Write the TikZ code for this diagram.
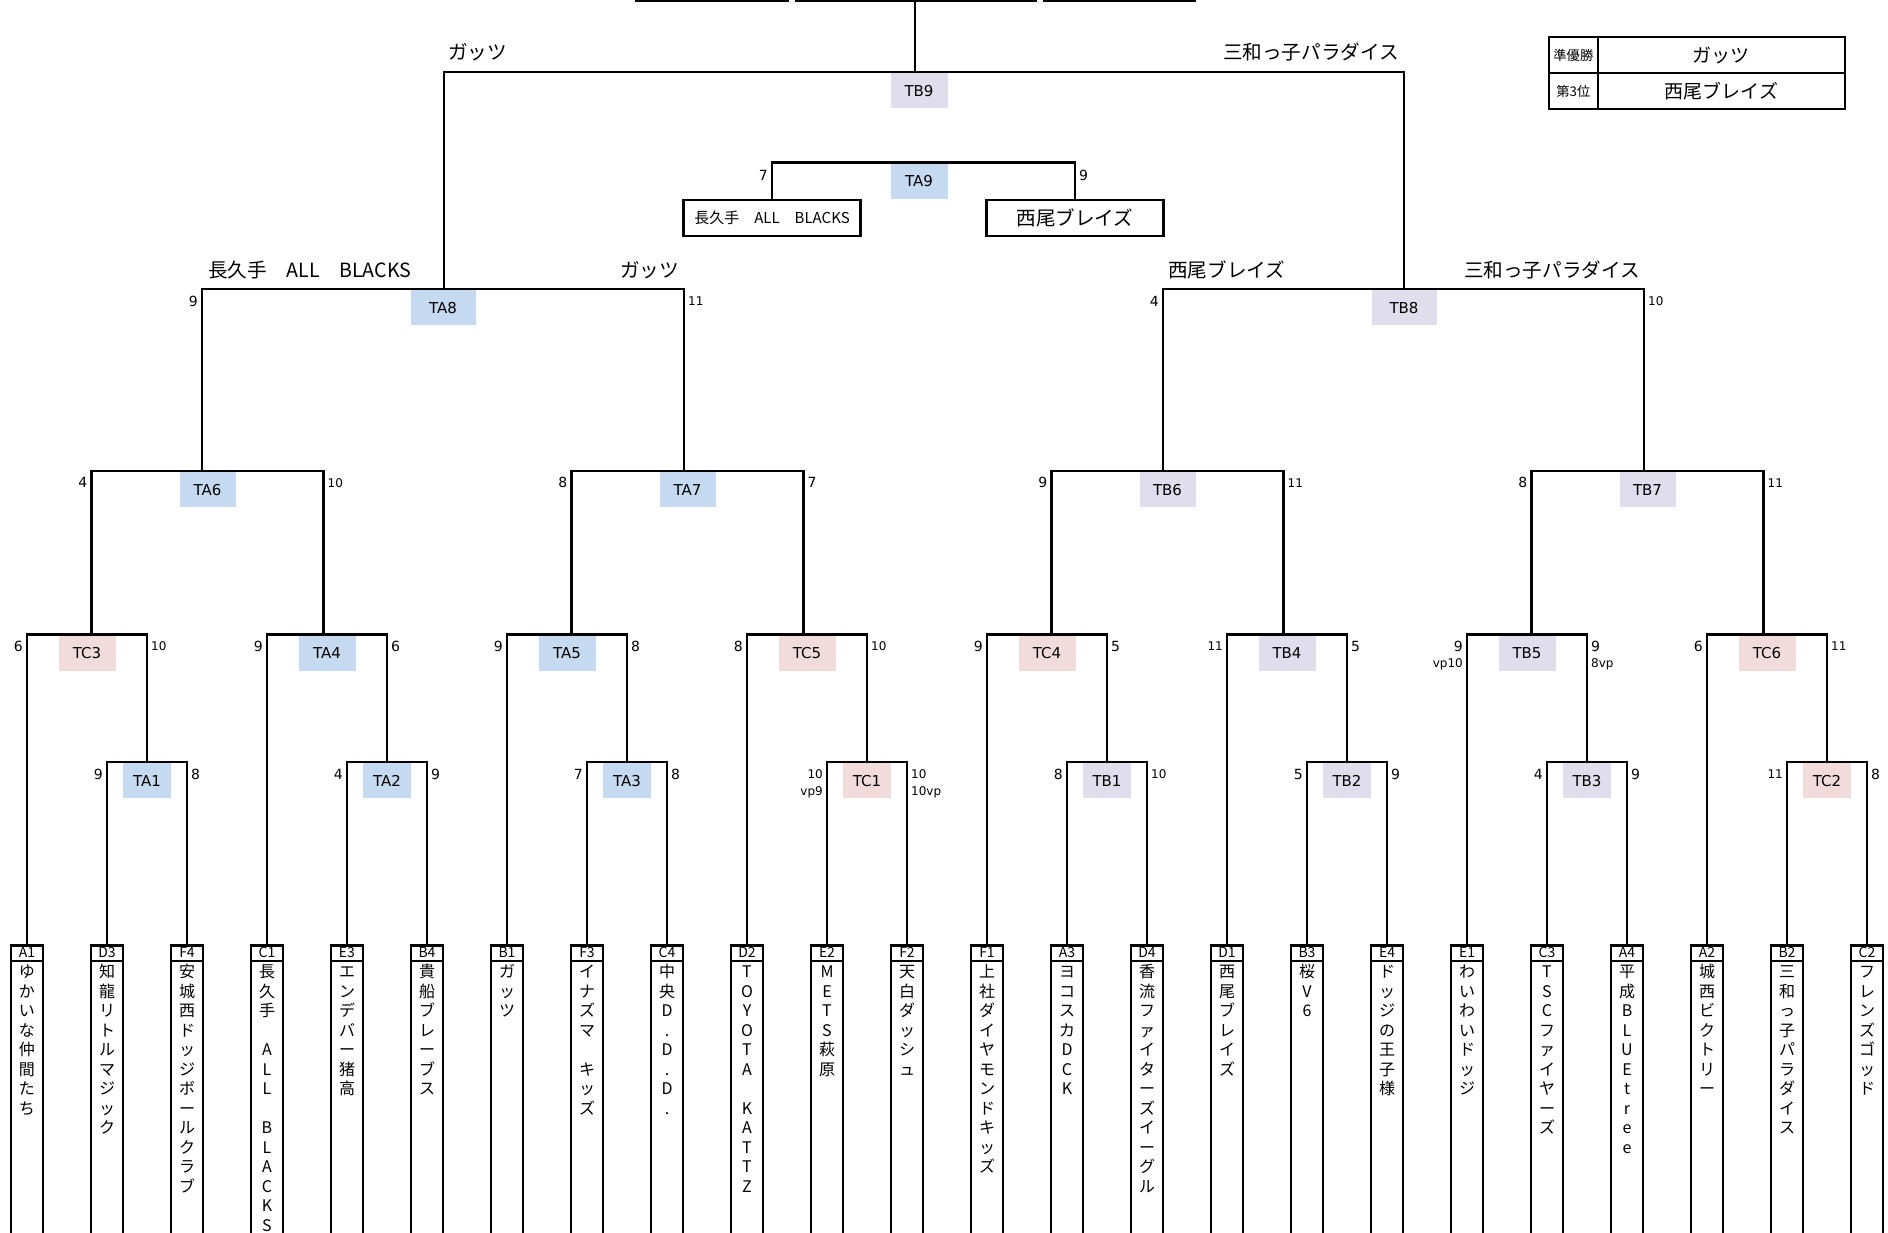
\documentclass[tikz,border=0pt]{standalone}
\usepackage{fontspec}
\setmainfont{Noto Sans CJK JP}
\newfontfamily\lat{DejaVu Sans}
\definecolor{cA}{HTML}{C5D9F1}
\definecolor{cB}{HTML}{E0DEED}
\definecolor{cC}{HTML}{F2DCDB}
\ExplSyntaxOn
\cs_new_protected:Npn \my_vt:n #1
  {
    \vtop
      {
        \baselineskip = 19.5pt
        \lineskiplimit = -\maxdimen
        \tl_map_inline:nn {#1} { \hbox_to_wd:nn { 32pt } { \hss ##1 \hss } }
      }
  }
\cs_generate_variant:Nn \my_vt:n { o }
\NewDocumentCommand \vt { m } { \my_vt:o {#1} }
\ExplSyntaxOff
\begin{document}
\begin{tikzpicture}[x=1pt,y=-1pt,
  ln/.style={line width=2.5pt},
  team/.style={draw,line width=2.5pt,minimum width=32pt,minimum height=310pt,anchor=north,inner sep=0pt},
  code/.style={inner sep=0pt,font=\fontsize{14}{14}\selectfont},
  vname/.style={anchor=base,inner sep=0pt,font=\fontsize{16}{19.5}\selectfont},
  lab/.style={anchor=north,inner sep=0pt,minimum height=35pt,font=\lat\fontsize{15}{15}\selectfont},
  la/.style={lab,fill=cA}, lb/.style={lab,fill=cB}, lc/.style={lab,fill=cC},
  w1/.style={minimum width=48pt}, w2/.style={minimum width=57pt},
  w3/.style={minimum width=56pt}, w4/.style={minimum width=65pt},
  scl/.style={anchor=east,inner sep=0pt,font=\lat\fontsize{14}{14}\selectfont},
  scr/.style={anchor=west,inner sep=0pt,font=\lat\fontsize{14}{14}\selectfont},
  sm/.style={font=\lat\fontsize{12}{12}\selectfont},
  big/.style={inner sep=0pt,font=\fontsize{19.6}{19.6}\selectfont},
  cell/.style={draw,line width=2.2pt,anchor=north west,inner sep=0pt,minimum height=36pt},
]
\fill[white] (0,0) rectangle (1888,1233);
\useasboundingbox (0,0) rectangle (1888,1233);
\clip (0,0) rectangle (1888,1233);

% ---------- teams ----------
\foreach \i/\cd/\nm in {
 0/A1/ゆかいな仲間たち,
 1/D3/知龍リトルマジック,
 2/F4/安城西ドッジボールクラブ,
 3/C1/長久手　ALL　BLACKS,
 4/E3/エンデバー猪高,
 5/B4/貴船ブレーブス,
 6/B1/ガッツ,
 7/F3/イナズマ　キッズ,
 8/C4/中央D.D.D.,
 9/D2/TOYOTA　KATTZ,
 10/E2/METS萩原,
 11/F2/天白ダッシュ,
 12/F1/上社ダイヤモンドキッズ,
 13/A3/ヨコスカDCK,
 14/D4/香流ファイターズイーグル,
 15/D1/西尾ブレイズ,
 16/B3/桜V6,
 17/E4/ドッジの王子様,
 18/E1/わいわいドッジ,
 19/C3/TSCファイヤーズ,
 20/A4/平成BLUEtree,
 21/A2/城西ビクトリー,
 22/B2/三和っ子パラダイス,
 23/C2/フレンズゴッド}{
  \node[team] (t\i) at ({27+80*\i},944) {};
  \draw[ln] ([yshift=-17pt]t\i.north west) -- ([yshift=-17pt]t\i.north east);
  \node[code] (c\i) at ([yshift=-8.5pt]t\i.north) {\cd};
  \node[vname] (n\i) at ([yshift=-33.8pt]t\i.north) {\vt{\nm}};
}

% ---------- match labels ----------
\node[la,w1] (TA1) at (147,763.1) {TA1};
\node[la,w1] (TA2) at (387,763.1) {TA2};
\node[la,w1] (TA3) at (627,763.1) {TA3};
\node[lc,w1] (TC1) at (867,763.1) {TC1};
\node[lb,w1] (TB1) at (1107,763.1) {TB1};
\node[lb,w1] (TB2) at (1347,763.1) {TB2};
\node[lb,w1] (TB3) at (1587,763.1) {TB3};
\node[lc,w1] (TC2) at (1827,763.1) {TC2};

\node[lc,w2] (TC3) at (87,635.7) {TC3};
\node[la,w2] (TA4) at (327,635.7) {TA4};
\node[la,w2] (TA5) at (567,635.7) {TA5};
\node[lc,w2] (TC5) at (807,635.7) {TC5};
\node[lc,w2] (TC4) at (1047,635.7) {TC4};
\node[lb,w2] (TB4) at (1287,635.7) {TB4};
\node[lb,w2] (TB5) at (1527,635.7) {TB5};
\node[lc,w2] (TC6) at (1767,635.7) {TC6};

\node[la,w3] (TA6) at (207.5,471.9) {TA6};
\node[la,w3] (TA7) at (687.5,471.9) {TA7};
\node[lb,w3] (TB6) at (1167.5,471.9) {TB6};
\node[lb,w3] (TB7) at (1647.5,471.9) {TB7};

\node[la,w4] (TA8) at (443,290.1) {TA8};
\node[lb,w4] (TB8) at (1404,290.1) {TB8};

\node[lb,w2] (TB9) at (919,73.3) {TB9};
\node[la,w2] (TA9) at (919,163.7) {TA9};

% ---------- riser points ----------
\coordinate (TA1r) at (147,762);
\coordinate (TA2r) at (387,762);
\coordinate (TA3r) at (627,762);
\coordinate (TC1r) at (867,762);
\coordinate (TB1r) at (1107,762);
\coordinate (TB2r) at (1347,762);
\coordinate (TB3r) at (1587,762);
\coordinate (TC2r) at (1827,762);
\coordinate (TC3r) at (91.5,634.6);
\coordinate (TA4r) at (323.5,634.6);
\coordinate (TA5r) at (571.5,634.6);
\coordinate (TC5r) at (803.5,634.6);
\coordinate (TC4r) at (1051.5,634.6);
\coordinate (TB4r) at (1283.5,634.6);
\coordinate (TB5r) at (1531.5,634.6);
\coordinate (TC6r) at (1763.5,634.6);
\coordinate (TA6r) at (202,470.8);
\coordinate (TA7r) at (684,470.8);
\coordinate (TB6r) at (1163,470.8);
\coordinate (TB7r) at (1644,470.8);
\coordinate (TA8r) at (444,289);
\coordinate (TB8r) at (1404,289);
\coordinate (TB9r) at (915,72.2);
\coordinate (topr) at (915,0);
\coordinate (TA9r) at (919,162.6);

% ---------- brackets ----------
\draw[ln] (t1.north) |- (TA1r) -| (t2.north);
\draw[ln] (t4.north) |- (TA2r) -| (t5.north);
\draw[ln] (t7.north) |- (TA3r) -| (t8.north);
\draw[ln] (t10.north) |- (TC1r) -| (t11.north);
\draw[ln] (t13.north) |- (TB1r) -| (t14.north);
\draw[ln] (t16.north) |- (TB2r) -| (t17.north);
\draw[ln] (t19.north) |- (TB3r) -| (t20.north);
\draw[ln] (t22.north) |- (TC2r) -| (t23.north);

\draw[ln] (t0.north) |- (TC3r) -| (TA1r);
\draw[ln] (t3.north) |- (TA4r) -| (TA2r);
\draw[ln] (t6.north) |- (TA5r) -| (TA3r);
\draw[ln] (t9.north) |- (TC5r) -| (TC1r);
\draw[ln] (t12.north) |- (TC4r) -| (TB1r);
\draw[ln] (t15.north) |- (TB4r) -| (TB2r);
\draw[ln] (t18.north) |- (TB5r) -| (TB3r);
\draw[ln] (t21.north) |- (TC6r) -| (TC2r);

\draw[ln] (TC3r) |- (TA6r) -| (TA4r);
\draw[ln] (TA5r) |- (TA7r) -| (TC5r);
\draw[ln] (TC4r) |- (TB6r) -| (TB4r);
\draw[ln] (TB5r) |- (TB7r) -| (TC6r);

\draw[ln] (TA6r) |- (TA8r) -| (TA7r);
\draw[ln] (TB6r) |- (TB8r) -| (TB7r);

\draw[ln] (TA8r) |- (TB9r) -| (TB8r);
\draw[ln] (TB9r) -- (topr);

% ---------- third place match ----------
\node[draw,line width=2.5pt,anchor=north,minimum width=177pt,minimum height=36pt,inner sep=0pt,
      font=\fontsize{15}{15}\selectfont] (q1) at (772,198.7) {長久手　ALL　BLACKS};
\node[draw,line width=2.5pt,anchor=north,minimum width=177pt,minimum height=36pt,inner sep=0pt,
      font=\fontsize{19.6}{19.6}\selectfont] (q2) at (1075,198.7) {西尾ブレイズ};
\draw[ln] (q1.north) |- (TA9r) -| (q2.north);

% ---------- title cell borders at the top ----------
\coordinate (h1a) at (634.6,1); \coordinate (h1b) at (788.7,1);
\coordinate (h2a) at (794.7,1); \coordinate (h2b) at (1036.7,1);
\coordinate (h3a) at (1042.7,1); \coordinate (h3b) at (1195.7,1);
\draw[ln] (h1a) -- (h1b);
\draw[ln] (h2a) -- (h2b);
\draw[ln] (h3a) -- (h3b);

% ---------- winners' names above lines ----------
\node[big,anchor=west] (w9l) at (448,52) {ガッツ};
\node[big,anchor=east] (w9r) at (1399,52) {三和っ子パラダイス};
\node[big,anchor=west] (w8l) at (208,270) {長久手　ALL　BLACKS};
\node[big,anchor=east] (w8r) at (679,270) {ガッツ};
\node[big,anchor=west] (v8l) at (1168,270) {西尾ブレイズ};
\node[big,anchor=east] (v8r) at (1640,270) {三和っ子パラダイス};

% ---------- scores ----------
% level 1
\node[scl] (sTA1l) at (103,774) {9};   \node[scr] (sTA1r) at (191,774) {8};
\node[scl] (sTA2l) at (343,774) {4};   \node[scr] (sTA2r) at (431,774) {9};
\node[scl] (sTA3l) at (583,774) {7};   \node[scr] (sTA3r) at (671,774) {8};
\node[scl,sm] (sTC1l) at (823,774) {10}; \node[scr,sm] (sTC1r) at (911,774) {10};
\node[scl,sm] (sTC1l2) at (823,792) {vp9}; \node[scr,sm] (sTC1r2) at (911,792) {10vp};
\node[scl] (sTB1l) at (1063,774) {8};  \node[scr,sm] (sTB1r) at (1151,774) {10};
\node[scl] (sTB2l) at (1303,774) {5};  \node[scr] (sTB2r) at (1391,774) {9};
\node[scl] (sTB3l) at (1543,774) {4};  \node[scr] (sTB3r) at (1631,774) {9};
\node[scl,sm] (sTC2l) at (1783,774) {11}; \node[scr] (sTC2r) at (1871,774) {8};
% level 2
\node[scl] (sTC3l) at (23,646.6) {6};    \node[scr,sm] (sTC3r) at (151,646.6) {10};
\node[scl] (sTA4l) at (263,646.6) {9};   \node[scr] (sTA4r) at (391,646.6) {6};
\node[scl] (sTA5l) at (503,646.6) {9};   \node[scr] (sTA5r) at (631,646.6) {8};
\node[scl] (sTC5l) at (743,646.6) {8};   \node[scr,sm] (sTC5r) at (871,646.6) {10};
\node[scl] (sTC4l) at (983,646.6) {9};   \node[scr] (sTC4r) at (1111,646.6) {5};
\node[scl,sm] (sTB4l) at (1223,646.6) {11}; \node[scr] (sTB4r) at (1351,646.6) {5};
\node[scl] (sTB5l) at (1463,646.6) {9};  \node[scr] (sTB5r) at (1591,646.6) {9};
\node[scl,sm] (sTB5l2) at (1463,664) {vp10}; \node[scr,sm] (sTB5r2) at (1591,664) {8vp};
\node[scl] (sTC6l) at (1703,646.6) {6};  \node[scr,sm] (sTC6r) at (1831,646.6) {11};
% level 3
\node[scl] (sTA6l) at (87.5,482.8) {4};   \node[scr,sm] (sTA6r) at (327.5,482.8) {10};
\node[scl] (sTA7l) at (567.5,482.8) {8};  \node[scr] (sTA7r) at (807.5,482.8) {7};
\node[scl] (sTB6l) at (1047.5,482.8) {9}; \node[scr,sm] (sTB6r) at (1287.5,482.8) {11};
\node[scl] (sTB7l) at (1527.5,482.8) {8}; \node[scr,sm] (sTB7r) at (1767.5,482.8) {11};
% level 4
\node[scl] (sTA8l) at (198,301) {9};   \node[scr,sm] (sTA8r) at (688,301) {11};
\node[scl] (sTB8l) at (1159,301) {4};  \node[scr,sm] (sTB8r) at (1648,301) {10};
% third place
\node[scl] (sTA9l) at (768,175) {7};   \node[scr] (sTA9r) at (1079,175) {9};

% ---------- result table ----------
\node[cell,minimum width=48.5pt,font=\fontsize{13.3}{13.3}\selectfont] (k1) at (1548,36) {準優勝};
\node[cell,minimum width=247.5pt,font=\fontsize{19}{19}\selectfont] (v1) at (1596.5,36) {ガッツ};
\node[cell,minimum width=48.5pt,font=\fontsize{13.3}{13.3}\selectfont] (k2) at (1548,72) {第3位};
\node[cell,minimum width=247.5pt,font=\fontsize{19}{19}\selectfont] (v2) at (1596.5,72) {西尾ブレイズ};
\end{tikzpicture}
\end{document}
